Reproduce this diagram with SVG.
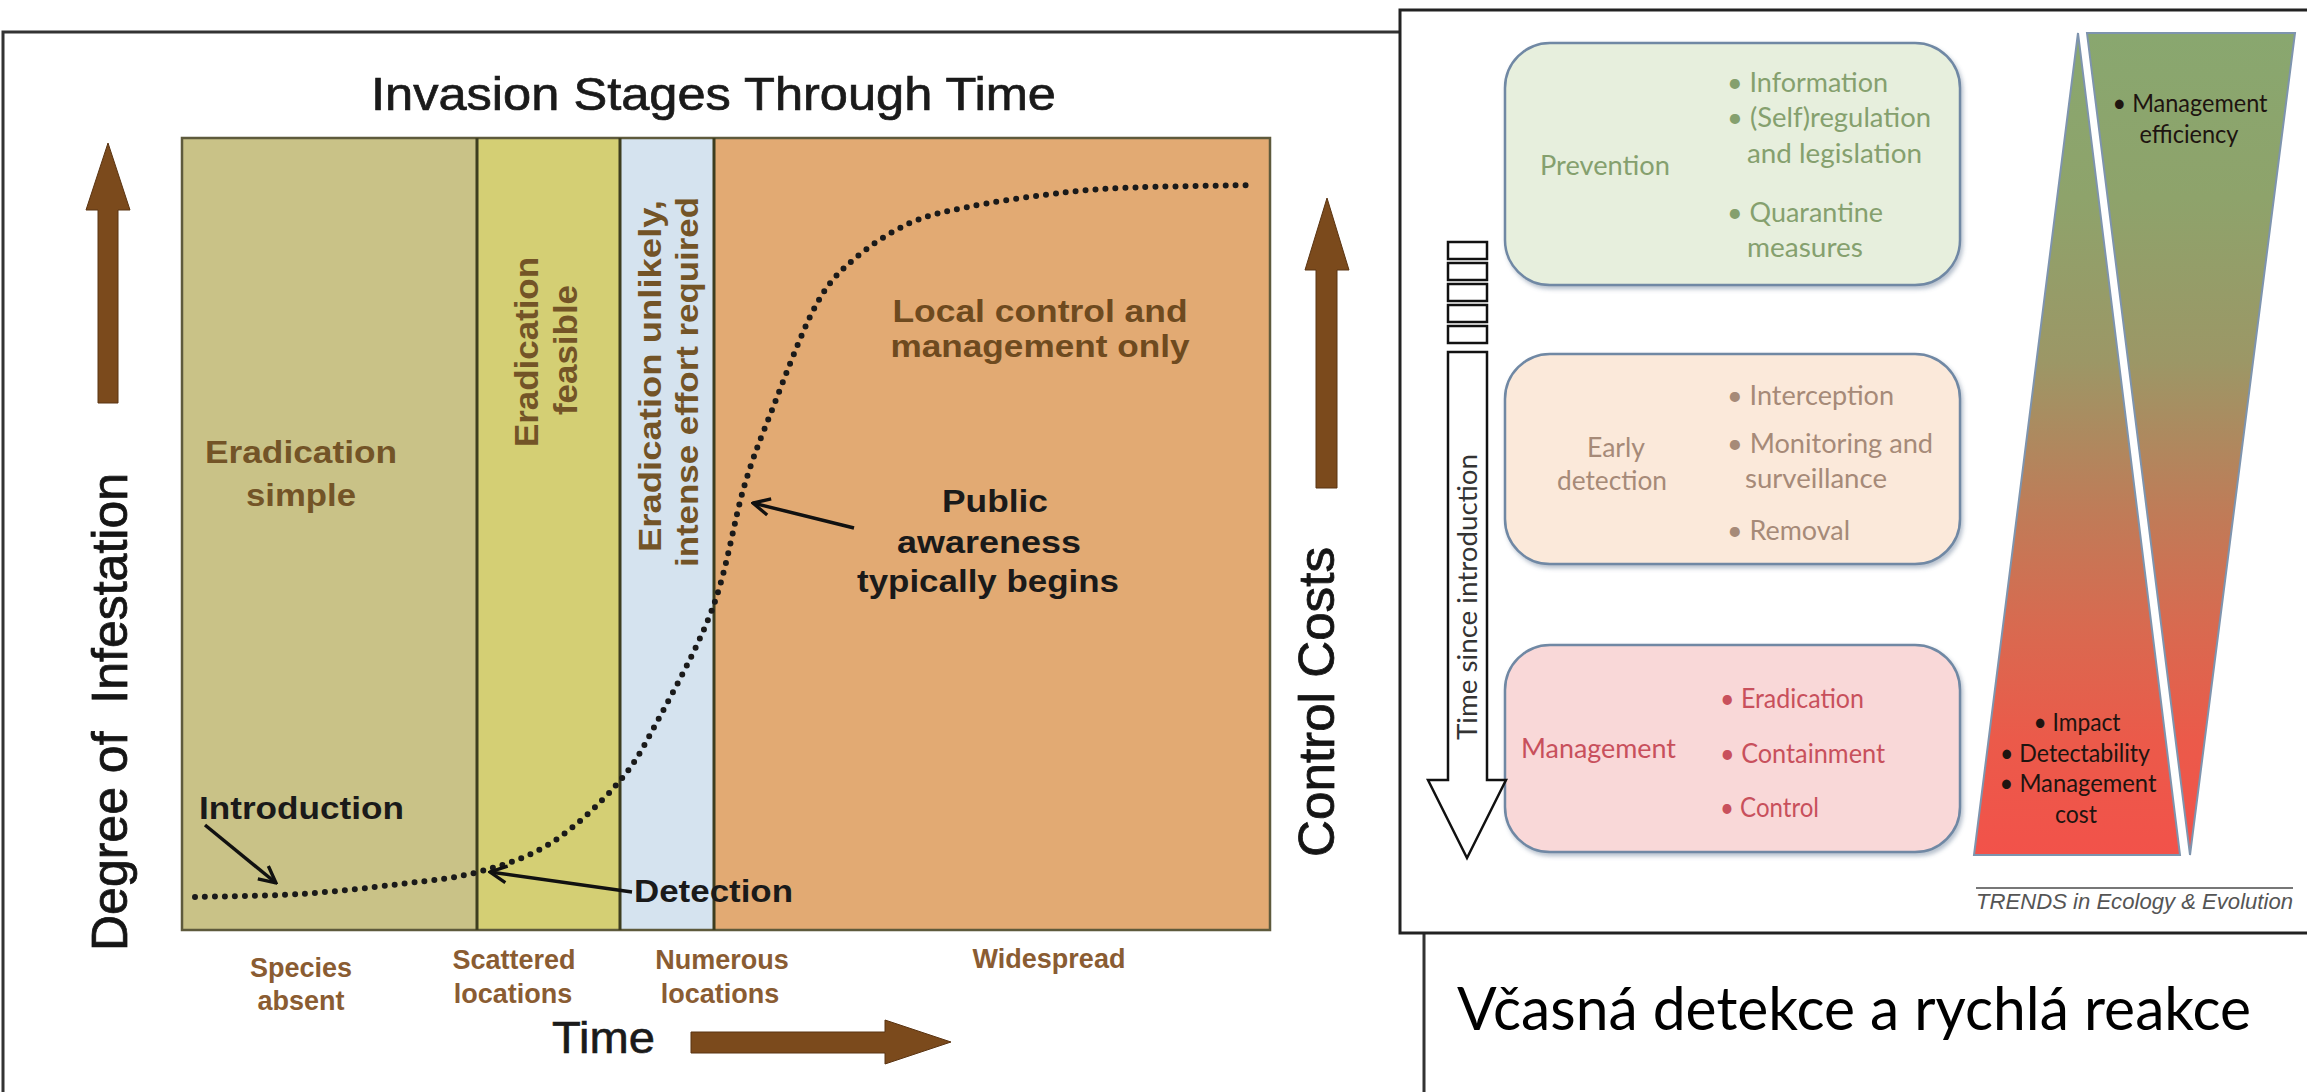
<svg xmlns="http://www.w3.org/2000/svg" width="2307" height="1092" viewBox="0 0 2307 1092">
<style>
.ls{font-family:"Liberation Sans",Arial,sans-serif}
.cal{font-family:Lato,"Open Sans",sans-serif}
.bold{font-weight:bold}
.brown{fill:#735427}
.lab{font-family:"Liberation Sans",Arial,sans-serif;font-weight:bold;font-size:27px;fill:#8a5c32;text-anchor:middle}
.blk{fill:#1a1a1a}
.axis{font-family:"Liberation Sans",Arial,sans-serif;font-size:50px;fill:#151515;stroke:#151515;stroke-width:0.8;text-anchor:middle}
.barrow{fill:#7b4a1c;stroke:#5a3412;stroke-width:1}
.ptr{stroke:#111;stroke-width:3.5;fill:none}
.box{stroke:#6f88a4;stroke-width:2.5}
.bt{font-family:Lato,"Open Sans",sans-serif;font-size:26px}
.g{fill:#85a06e}
.p{fill:#a68a78}
.r{fill:#c8505c}
.tri{stroke:#7e94ae;stroke-width:2}
.tt{font-family:Lato,"Open Sans",sans-serif;font-size:25px;fill:#1e1410;text-anchor:middle}
</style>
<defs>
<marker id="ah" viewBox="0 0 12 12" refX="11" refY="6" markerWidth="20" markerHeight="20" markerUnits="userSpaceOnUse" orient="auto">
<path d="M1,1 L11,6 L1,11" fill="none" stroke="#111" stroke-width="2"/>
</marker>
<linearGradient id="tg" gradientUnits="userSpaceOnUse" x1="0" y1="33" x2="0" y2="855">
<stop offset="0" stop-color="#89a76f"/>
<stop offset="0.2" stop-color="#8ea36b"/>
<stop offset="0.4" stop-color="#9c9766"/>
<stop offset="0.58" stop-color="#bf7c58"/>
<stop offset="0.72" stop-color="#d86a50"/>
<stop offset="0.86" stop-color="#eb5a4a"/>
<stop offset="1" stop-color="#f2524a"/>
</linearGradient>
<filter id="sh" x="-5%" y="-5%" width="112%" height="115%">
<feDropShadow dx="2" dy="3" stdDeviation="2" flood-color="#5f7390" flood-opacity="0.45"/>
</filter>
</defs>
<rect x="0" y="0" width="2307" height="1092" fill="#ffffff"/>

<!-- LEFT PANEL -->
<g id="left-panel">
<path d="M3,1092 V32 H1424 V1092" fill="none" stroke="#333" stroke-width="3"/>
<text class="ls blk" x="371" y="110" font-size="47" stroke="#1a1a1a" stroke-width="0.7" textLength="685" lengthAdjust="spacingAndGlyphs">Invasion Stages Through Time</text>
</g>

<g id="chart">
<rect x="182" y="138" width="295" height="792" fill="#c9c287"/>
<rect x="477" y="138" width="143" height="792" fill="#d4cf74"/>
<rect x="620" y="138" width="94" height="792" fill="#d5e3ef"/>
<rect x="714" y="138" width="556" height="792" fill="#e2aa73"/>
<rect x="182" y="138" width="1088" height="792" fill="none" stroke="#5e5a3c" stroke-width="2.5"/>
<line x1="477" y1="138" x2="477" y2="930" stroke="#3d3d1f" stroke-width="3"/>
<line x1="620" y1="138" x2="620" y2="930" stroke="#3d3d1f" stroke-width="3"/>
<line x1="714" y1="138" x2="714" y2="930" stroke="#3d3d1f" stroke-width="3"/>
</g>

<g id="stage-eradication-simple">
<text class="ls bold brown" x="301" y="463" font-size="31" text-anchor="middle" textLength="192" lengthAdjust="spacingAndGlyphs">Eradication</text>
<text class="ls bold brown" x="301" y="506" font-size="31" text-anchor="middle" textLength="110" lengthAdjust="spacingAndGlyphs">simple</text>
</g>
<g id="stage-eradication-feasible">
<text class="ls bold brown" transform="translate(538,352) rotate(-90)" font-size="33" text-anchor="middle" textLength="190" lengthAdjust="spacingAndGlyphs">Eradication</text>
<text class="ls bold brown" transform="translate(577,350) rotate(-90)" font-size="33" text-anchor="middle" textLength="130" lengthAdjust="spacingAndGlyphs">feasible</text>
</g>
<g id="stage-eradication-unlikely">
<text class="ls bold brown" transform="translate(661,376) rotate(-90)" font-size="32" text-anchor="middle" textLength="352" lengthAdjust="spacingAndGlyphs">Eradication unlikely,</text>
<text class="ls bold brown" transform="translate(698,382) rotate(-90)" font-size="32" text-anchor="middle" textLength="370" lengthAdjust="spacingAndGlyphs">intense effort required</text>
</g>
<g id="stage-local-control">
<text class="ls bold" fill="#6e4a1f" x="1040" y="322" font-size="32" text-anchor="middle" textLength="295" lengthAdjust="spacingAndGlyphs">Local control and</text>
<text class="ls bold" fill="#6e4a1f" x="1040" y="357" font-size="32" text-anchor="middle" textLength="299" lengthAdjust="spacingAndGlyphs">management only</text>
</g>

<g id="curve">
<path d="M195,897 C212.5,896.5 265.8,896.2 300,894 C334.2,891.8 370.3,887.7 400,884 C429.7,880.3 452.8,878.8 478,872 C503.2,865.2 527.7,857.8 551,843 C574.3,828.2 600.2,803.5 618,783 C635.8,762.5 642.2,749.3 658,720 C673.8,690.7 698.7,645.8 713,607 C727.3,568.2 734.2,519.8 744,487 C753.8,454.2 760.2,440 772,410 C783.8,380 801.5,332 815,307 C828.5,282 837.2,274 853,260 C868.8,246 890.8,231.8 910,223 C929.2,214.2 945.7,211.7 968,207 C990.3,202.3 1018.5,198.2 1044,195 C1069.5,191.8 1085.8,189.7 1121,188 C1156.2,186.3 1232.7,185.5 1255,185" fill="none" stroke="#1a1a1a" stroke-width="6" stroke-linecap="round" stroke-dasharray="0 10"/>
</g>

<g id="annotations">
<text class="ls bold blk" x="199" y="819" font-size="32" textLength="205" lengthAdjust="spacingAndGlyphs">Introduction</text>
<text class="ls bold blk" x="634" y="902" font-size="32" textLength="159" lengthAdjust="spacingAndGlyphs">Detection</text>
<text class="ls bold blk" x="995" y="512" font-size="32" text-anchor="middle" textLength="106" lengthAdjust="spacingAndGlyphs">Public</text>
<text class="ls bold blk" x="989" y="553" font-size="32" text-anchor="middle" textLength="184" lengthAdjust="spacingAndGlyphs">awareness</text>
<text class="ls bold blk" x="988" y="592" font-size="32" text-anchor="middle" textLength="262" lengthAdjust="spacingAndGlyphs">typically begins</text>
</g>

<g id="connectors">
<line class="ptr" x1="205" y1="825" x2="276" y2="883" marker-end="url(#ah)"/>
<line class="ptr" x1="632" y1="892" x2="490" y2="872" marker-end="url(#ah)"/>
<line class="ptr" x1="854" y1="528" x2="753" y2="503" marker-end="url(#ah)"/>
</g>

<g id="axis-labels">
<text class="lab" x="301" y="977">Species</text>
<text class="lab" x="301" y="1010">absent</text>
<text class="lab" x="514" y="969">Scattered</text>
<text class="lab" x="513" y="1003">locations</text>
<text class="lab" x="722" y="969">Numerous</text>
<text class="lab" x="720" y="1003">locations</text>
<text class="lab" x="1049" y="968">Widespread</text>
</g>

<g id="axis-degree">
<path class="barrow" d="M98,403 V210 H86 L108,143 L130,210 H118 V403 Z"/>
<text class="axis" transform="translate(127,712) rotate(-90)" textLength="478" lengthAdjust="spacingAndGlyphs" xml:space="preserve">Degree of  Infestation</text>
</g>
<g id="axis-costs">
<path class="barrow" d="M1316,488 V270 H1305 L1327,198 L1349,270 H1337 V488 Z"/>
<text class="axis" transform="translate(1334,702) rotate(-90)" textLength="310" lengthAdjust="spacingAndGlyphs">Control Costs</text>
</g>
<g id="axis-time">
<path class="barrow" d="M691,1032 H885 V1020 L951,1042 L885,1064 V1053 H691 Z"/>
<text class="ls blk" x="552" y="1053" font-size="44" stroke="#1a1a1a" stroke-width="0.6" textLength="103" lengthAdjust="spacingAndGlyphs">Time</text>
</g>

<!-- RIGHT PANEL -->
<g id="right-panel">
<rect x="1400" y="10" width="912" height="923" fill="#ffffff" stroke="#222" stroke-width="3"/>
</g>

<g id="box-prevention">
<rect class="box" x="1505" y="43" width="455" height="242" rx="45" ry="45" fill="#e7efdd" filter="url(#sh)"/>
<text class="bt g" x="1540" y="175" font-size="28" textLength="130" lengthAdjust="spacingAndGlyphs">Prevention</text>
<text class="bt g" x="1727" y="92" textLength="161" lengthAdjust="spacingAndGlyphs">• Information</text>
<text class="bt g" x="1727" y="127" textLength="204" lengthAdjust="spacingAndGlyphs">• (Self)regulation</text>
<text class="bt g" x="1747" y="163" textLength="175" lengthAdjust="spacingAndGlyphs">and legislation</text>
<text class="bt g" x="1727" y="222" textLength="156" lengthAdjust="spacingAndGlyphs">• Quarantine</text>
<text class="bt g" x="1747" y="257" textLength="116" lengthAdjust="spacingAndGlyphs">measures</text>
</g>

<g id="box-early-detection">
<rect class="box" x="1505" y="354" width="455" height="210" rx="45" ry="45" fill="#fbe9da" filter="url(#sh)"/>
<text class="bt p" x="1616" y="457" font-size="28" text-anchor="middle" textLength="58" lengthAdjust="spacingAndGlyphs">Early</text>
<text class="bt p" x="1612" y="490" font-size="28" text-anchor="middle" textLength="110" lengthAdjust="spacingAndGlyphs">detection</text>
<text class="bt p" x="1727" y="405" textLength="167" lengthAdjust="spacingAndGlyphs">• Interception</text>
<text class="bt p" x="1727" y="453" textLength="206" lengthAdjust="spacingAndGlyphs">• Monitoring and</text>
<text class="bt p" x="1745" y="488" textLength="142" lengthAdjust="spacingAndGlyphs">surveillance</text>
<text class="bt p" x="1727" y="540" textLength="123" lengthAdjust="spacingAndGlyphs">• Removal</text>
</g>

<g id="box-management">
<rect class="box" x="1505" y="645" width="455" height="207" rx="45" ry="45" fill="#f9d8d8" filter="url(#sh)"/>
<text class="bt r" x="1521" y="758" font-size="28" textLength="155" lengthAdjust="spacingAndGlyphs">Management</text>
<text class="bt r" x="1720" y="708" textLength="144" lengthAdjust="spacingAndGlyphs">• Eradication</text>
<text class="bt r" x="1720" y="763" textLength="165" lengthAdjust="spacingAndGlyphs">• Containment</text>
<text class="bt r" x="1720" y="817" textLength="99" lengthAdjust="spacingAndGlyphs">• Control</text>
</g>

<g id="time-arrow">
<g fill="#ffffff" stroke="#111" stroke-width="2.5">
<rect x="1448" y="242" width="39" height="17"/>
<rect x="1448" y="263" width="39" height="17"/>
<rect x="1448" y="284" width="39" height="17"/>
<rect x="1448" y="305" width="39" height="17"/>
<rect x="1448" y="326" width="39" height="17"/>
<path d="M1448,352 H1487 V780 H1506 L1467,858 L1428,780 H1448 Z"/>
</g>
<text class="cal" transform="translate(1477,597) rotate(-90)" font-size="26" fill="#333" text-anchor="middle" textLength="286" lengthAdjust="spacingAndGlyphs">Time since introduction</text>
</g>

<g id="triangle-impact">
<polygon class="tri" points="2078,33 2180,855 1974,855" fill="url(#tg)"/>
<text class="tt" x="2077" y="731" textLength="87" lengthAdjust="spacingAndGlyphs">• Impact</text>
<text class="tt" x="2075" y="762" textLength="150" lengthAdjust="spacingAndGlyphs">• Detectability</text>
<text class="tt" x="2078" y="792" textLength="157" lengthAdjust="spacingAndGlyphs">• Management</text>
<text class="tt" x="2076" y="823" textLength="42" lengthAdjust="spacingAndGlyphs">cost</text>
</g>
<g id="triangle-efficiency">
<polygon class="tri" points="2087,33 2295,33 2190,855" fill="url(#tg)"/>
<text class="tt" x="2190" y="112" textLength="155" lengthAdjust="spacingAndGlyphs">• Management</text>
<text class="tt" x="2189" y="143" textLength="99" lengthAdjust="spacingAndGlyphs">efficiency</text>
</g>

<g id="credit">
<line x1="1976" y1="888" x2="2293" y2="888" stroke="#777" stroke-width="2"/>
<text class="ls" x="1976" y="909" font-size="22" font-style="italic" fill="#555" textLength="317" lengthAdjust="spacingAndGlyphs">TRENDS in Ecology &amp; Evolution</text>
</g>

<g id="caption">
<text class="cal" x="1457" y="1030" font-size="60" fill="#000" textLength="794" lengthAdjust="spacingAndGlyphs">Včasná detekce a rychlá reakce</text>
</g>
</svg>
